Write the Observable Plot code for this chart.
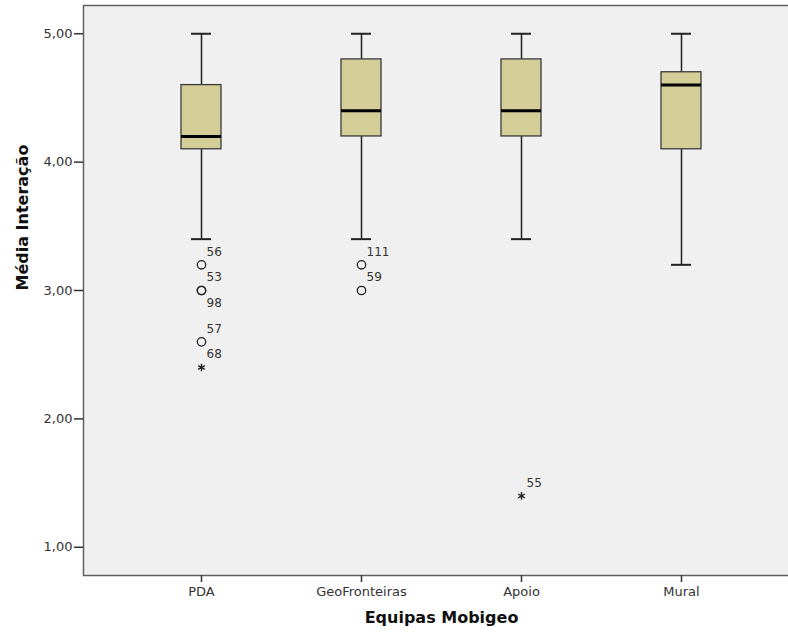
<!DOCTYPE html>
<html>
<head>
<meta charset="utf-8">
<script src="https://cdn.jsdelivr.net/npm/d3@7"></script>
<script src="https://cdn.jsdelivr.net/npm/@observablehq/plot@0.6"></script>
<style>
  html, body { margin: 0; padding: 0; background: white; overflow: hidden; }
  #chart svg { overflow: hidden; }
</style>
</head>
<body>
<div id="chart"></div>
<script>
// Categories (x axis)
const categories = ["PDA", "GeoFronteiras", "Apoio", "Mural"];
// Box-plot statistics per category
const whiskerHigh = [5.0, 5.0, 5.0, 5.0];
const q3 = [4.6, 4.8, 4.8, 4.7];
const median = [4.2, 4.4, 4.4, 4.6];
const q1 = [4.1, 4.2, 4.2, 4.1];
const whiskerLow = [3.4, 3.4, 3.4, 3.2];
// Outliers (o) and extremes (*)
const outlierGroup = ["PDA", "PDA", "PDA", "PDA", "PDA", "GeoFronteiras", "GeoFronteiras", "Apoio"];
const outlierValue = [3.2, 3.0, 3.0, 2.6, 2.4, 3.2, 3.0, 1.4];
const outlierId = ["56", "53", "98", "57", "68", "111", "59", "55"];
const outlierKind = ["o", "o", "o", "o", "*", "o", "o", "*"];
// Axis ticks and titles
const yTicks = [1, 2, 3, 4, 5];
const yTitle = "Média Interação";
const xTitle = "Equipas Mobigeo";

const boxes = categories.map((c, i) => ({
  cat: c, hi: whiskerHigh[i], q3: q3[i], med: median[i], q1: q1[i], lo: whiskerLow[i]
}));
const seen = new Map();
const outliers = outlierGroup.map((g, i) => {
  const key = g + "|" + outlierValue[i];
  const n = seen.get(key) || 0;
  seen.set(key, n + 1);
  return { cat: g, v: outlierValue[i], id: outlierId[i], kind: outlierKind[i], below: n > 0 };
});

const boxInset = 60;
const capInset = 70;

const chart = Plot.plot({
  width: 788,
  height: 636,
  marginLeft: 83,
  marginRight: -11,
  marginTop: 5,
  marginBottom: 61,
  style: { fontFamily: "'DejaVu Sans', sans-serif", fontSize: "13px", color: "#333", background: "white" },
  x: { type: "band", domain: categories, paddingInner: 0, paddingOuter: 0.226, label: null },
  y: { domain: [0.78, 5.22], label: null },
  marks: [
    Plot.frame({ fill: "#f0f0f0", stroke: "#606060", strokeWidth: 1.5 }),
    // whiskers
    Plot.ruleX(boxes, { x: "cat", y1: "q3", y2: "hi", stroke: "#222", strokeWidth: 1.5 }),
    Plot.ruleX(boxes, { x: "cat", y1: "lo", y2: "q1", stroke: "#222", strokeWidth: 1.5 }),
    Plot.tickY(boxes, { x: "cat", y: "hi", stroke: "#222", strokeWidth: 2, inset: capInset }),
    Plot.tickY(boxes, { x: "cat", y: "lo", stroke: "#222", strokeWidth: 2, inset: capInset }),
    // boxes
    Plot.barY(boxes, { x: "cat", y1: "q1", y2: "q3", fill: "#d3ce97", stroke: "#3a3a3a", strokeWidth: 1.3, insetLeft: boxInset, insetRight: boxInset }),
    Plot.tickY(boxes, { x: "cat", y: "med", stroke: "#000", strokeWidth: 3, inset: boxInset }),
    // outliers
    Plot.dot(outliers.filter(d => d.kind === "o"), { x: "cat", y: "v", r: 4.2, stroke: "#222", strokeWidth: 1.3, fill: "none" }),
    Plot.dot(outliers.filter(d => d.kind === "*"), { x: "cat", y: "v", symbol: "asterisk", r: 3.6, stroke: "#222", strokeWidth: 1.4 }),
    Plot.text(outliers, { x: "cat", y: "v", text: "id", textAnchor: "start", dx: 5, dy: -13, fontSize: 12, fill: "#333",
      filter: d => !d.below }),
    Plot.text(outliers, { x: "cat", y: "v", text: "id", textAnchor: "start", dx: 5, dy: 13, fontSize: 12, fill: "#333",
      filter: d => d.below }),
    // axes
    Plot.axisY({ ticks: yTicks, tickFormat: d => d.toFixed(2).replace(".", ","), tickSize: 9, tickPadding: 2, stroke: "#333", strokeWidth: 1.5, label: null, fontSize: 13 }),
    Plot.axisX({ tickSize: 7, tickPadding: 4, stroke: "#333", strokeWidth: 1.5, label: null, fontSize: 13 }),
    Plot.text([yTitle], { frameAnchor: "left", rotate: -90, dx: -61, fontWeight: "bold", fontSize: 16, fill: "#111" }),
    Plot.text([xTitle], { frameAnchor: "bottom", dy: 47, fontWeight: "bold", fontSize: 16, fill: "#111" })
  ]
});
document.getElementById("chart").appendChild(chart);
</script>
</body>
</html>
